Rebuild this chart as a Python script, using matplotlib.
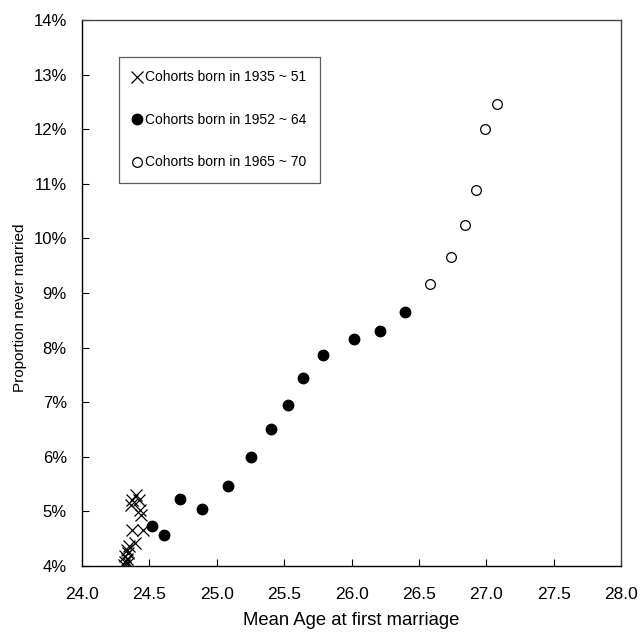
import matplotlib
matplotlib.use('Agg')
import matplotlib.pyplot as plt
from matplotlib.ticker import FuncFormatter

plt.rcParams['font.family'] = ['Liberation Sans', 'DejaVu Sans']

# Cohorts born 1935-51 (17 cohorts)
age_1935 = [24.31, 24.32, 24.33, 24.32, 24.34, 24.33, 24.35, 24.39, 24.37,
            24.45, 24.44, 24.43, 24.36, 24.42, 24.37, 24.40, 24.34]
never_1935 = [4.02, 4.08, 4.12, 4.18, 4.24, 4.30, 4.36, 4.42, 4.66,
              4.66, 4.93, 5.03, 5.12, 5.21, 5.21, 5.30, 4.05]

# Cohorts born 1952-64
age_1952 = [24.52, 24.61, 24.73, 24.89, 25.08, 25.25, 25.40, 25.53, 25.64,
            25.79, 26.02, 26.21, 26.40]
never_1952 = [4.73, 4.56, 5.22, 5.04, 5.47, 6.00, 6.50, 6.95, 7.44,
              7.86, 8.15, 8.30, 8.65]

# Cohorts born 1965-70
age_1965 = [26.58, 26.74, 26.84, 26.92, 26.99, 27.08]
never_1965 = [9.17, 9.66, 10.25, 10.89, 12.00, 12.47]

fig = plt.figure(figsize=(6.41, 6.35), dpi=100)
ax = fig.add_axes([0.128, 0.1087, 0.841, 0.8598])

ax.plot(age_1935, never_1935, linestyle='none', marker='x', color='black',
        markersize=8, markeredgewidth=0.9, label='Cohorts born in 1935 ~ 51')
ax.plot(age_1952, never_1952, linestyle='none', marker='o', color='black',
        markersize=7.5, label='Cohorts born in 1952 ~ 64')
ax.plot(age_1965, never_1965, linestyle='none', marker='o', markerfacecolor='white',
        markeredgecolor='black', markersize=7, markeredgewidth=0.9,
        label='Cohorts born in 1965 ~ 70')

ax.set_xlim(24.0, 28.0)
ax.set_ylim(4, 14)
ax.set_xticks([24.0 + 0.5 * i for i in range(9)])
ax.set_yticks(range(4, 15))
ax.xaxis.set_major_formatter(FuncFormatter(lambda v, p: f'{v:.1f}'))
ax.yaxis.set_major_formatter(FuncFormatter(lambda v, p: f'{int(v)}%'))
ax.tick_params(direction='in', length=5, width=0.8)
ax.tick_params(axis='x', labelsize=12.5, pad=15)
ax.tick_params(axis='y', labelsize=12, pad=11)

for s in ax.spines.values():
    s.set_linewidth(1.0)
ax.spines['top'].set_color('#444444')
ax.spines['right'].set_color('#444444')

ax.set_xlabel('Mean Age at first marriage', fontsize=13.3)
ax.set_ylabel('Proportion never married', fontsize=11)
ax.xaxis.set_label_coords(0.5, -0.084)
ax.yaxis.set_label_coords(-0.102, 0.473)

leg = ax.legend(loc='upper left', bbox_to_anchor=(0.068, 0.933), fontsize=10,
                frameon=True, fancybox=False, edgecolor='#333333',
                handlelength=0.6, handletextpad=0.3, labelspacing=2.05,
                borderpad=1.0, borderaxespad=0)
leg.get_frame().set_linewidth(0.9)

fig.savefig('out.png', dpi=100)
